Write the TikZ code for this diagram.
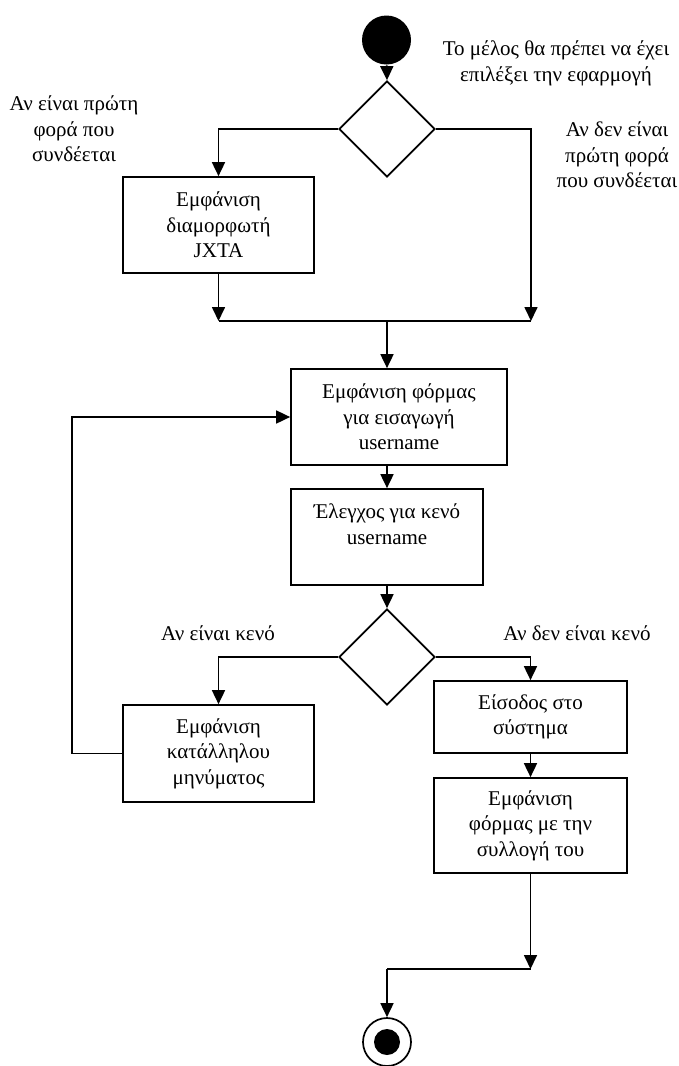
\documentclass[tikz,border=0pt]{standalone}
\usepackage{fontspec}
\setmainfont{Liberation Serif}
\usetikzlibrary{arrows.meta,shapes.geometric}
\begin{document}
\begin{tikzpicture}[x=1pt,y=-1pt,
  line width=1.7pt,
  flow/.style={draw, line width=1.7pt, -{Triangle[length=14pt,width=13pt]}},
  plain/.style={draw, line width=1.7pt},
  box/.style={draw, rectangle, line width=1.7pt, align=center, inner sep=0pt,
    font=\fontsize{21}{25.5}\selectfont},
  txt/.style={align=center, inner sep=0pt, font=\fontsize{21}{25.5}\selectfont},
  choice/.style={draw, diamond, line width=1.7pt, minimum width=96pt,
    minimum height=96pt, inner sep=0pt},
]
\useasboundingbox (0,0) rectangle (679,1066);

% activity nodes
\node[circle, fill=black, minimum size=49pt, inner sep=0pt] (start) at (386.5,40) {};
\node[choice] (d1) at (387,129) {};
\node[box, minimum width=191pt, minimum height=96pt] (b1) at (218.5,225)
  {Εμφάνιση\\διαμορφωτή\\JXTA};
\coordinate (m1) at (387,321);
\coordinate (r1) at (531,321);
\node[box, minimum width=216pt, minimum height=96pt] (b2) at (399,417)
  {Εμφάνιση φόρμας\\για εισαγωγή\\username};
\node[box, minimum width=192pt, minimum height=96pt] (b3) at (387,537)
  {Έλεγχος για κενό\\username\\~};
\node[choice] (d2) at (387,657) {};
\node[box, minimum width=191pt, minimum height=97pt] (b4) at (218.5,753.5)
  {Εμφάνιση\\κατάλληλου\\μηνύματος};
\node[box, minimum width=193pt, minimum height=72pt] (b5) at (530.5,717)
  {Είσοδος στο\\σύστημα};
\node[box, minimum width=193pt, minimum height=95pt] (b6) at (530.5,825.5)
  {Εμφάνιση\\φόρμας με την\\συλλογή του};
\coordinate (m2) at (387,969);
\coordinate (lp) at (72,417);
\node[circle, draw, line width=1.7pt, minimum size=48pt, inner sep=0pt] (end) at (387,1042) {};
\fill (end.center) circle (13pt);

% guard texts
\node[txt] (t0) at (556,63.5) {Το μέλος θα πρέπει να έχει\\επιλέξει την εφαρμογή};
\node[txt] (t1) at (74,129) {Αν είναι πρώτη\\φορά που\\συνδέεται};
\node[txt] (t2) at (617,155) {Αν δεν είναι\\πρώτη φορά\\που συνδέεται};
\node[txt] (t3) at (218,633) {Αν είναι κενό};
\node[txt] (t4) at (577,633) {Αν δεν είναι κενό};

% control flow
\draw[flow] (start) -- (d1.north);
\draw[flow] (d1.west) -| (b1.north);
\draw[flow] (d1.east) -| (r1);
\draw[flow] (b1.south) -- (b1.south |- m1);
\draw[plain] (b1.south |- m1) -- (r1);
\draw[flow] (m1) -- (m1 |- b2.north);
\draw[flow] (b3.north |- b2.south) -- (b3.north);
\draw[flow] (b3.south) -- (d2.north);
\draw[flow] (d2.west) -| (b4.north);
\draw[flow] (d2.east) -| (b5.north);
\draw[flow] (b5.south) -- (b6.north);
\draw[flow] (b6.south) -- (b6.south |- m2);
\draw[plain] (b6.south |- m2) -- (m2);
\draw[flow] (m2) -- (end.north);
\draw[flow] (b4.west) -- (b4.west -| lp) -- (lp) -- (b2.west);
\end{tikzpicture}
\end{document}
